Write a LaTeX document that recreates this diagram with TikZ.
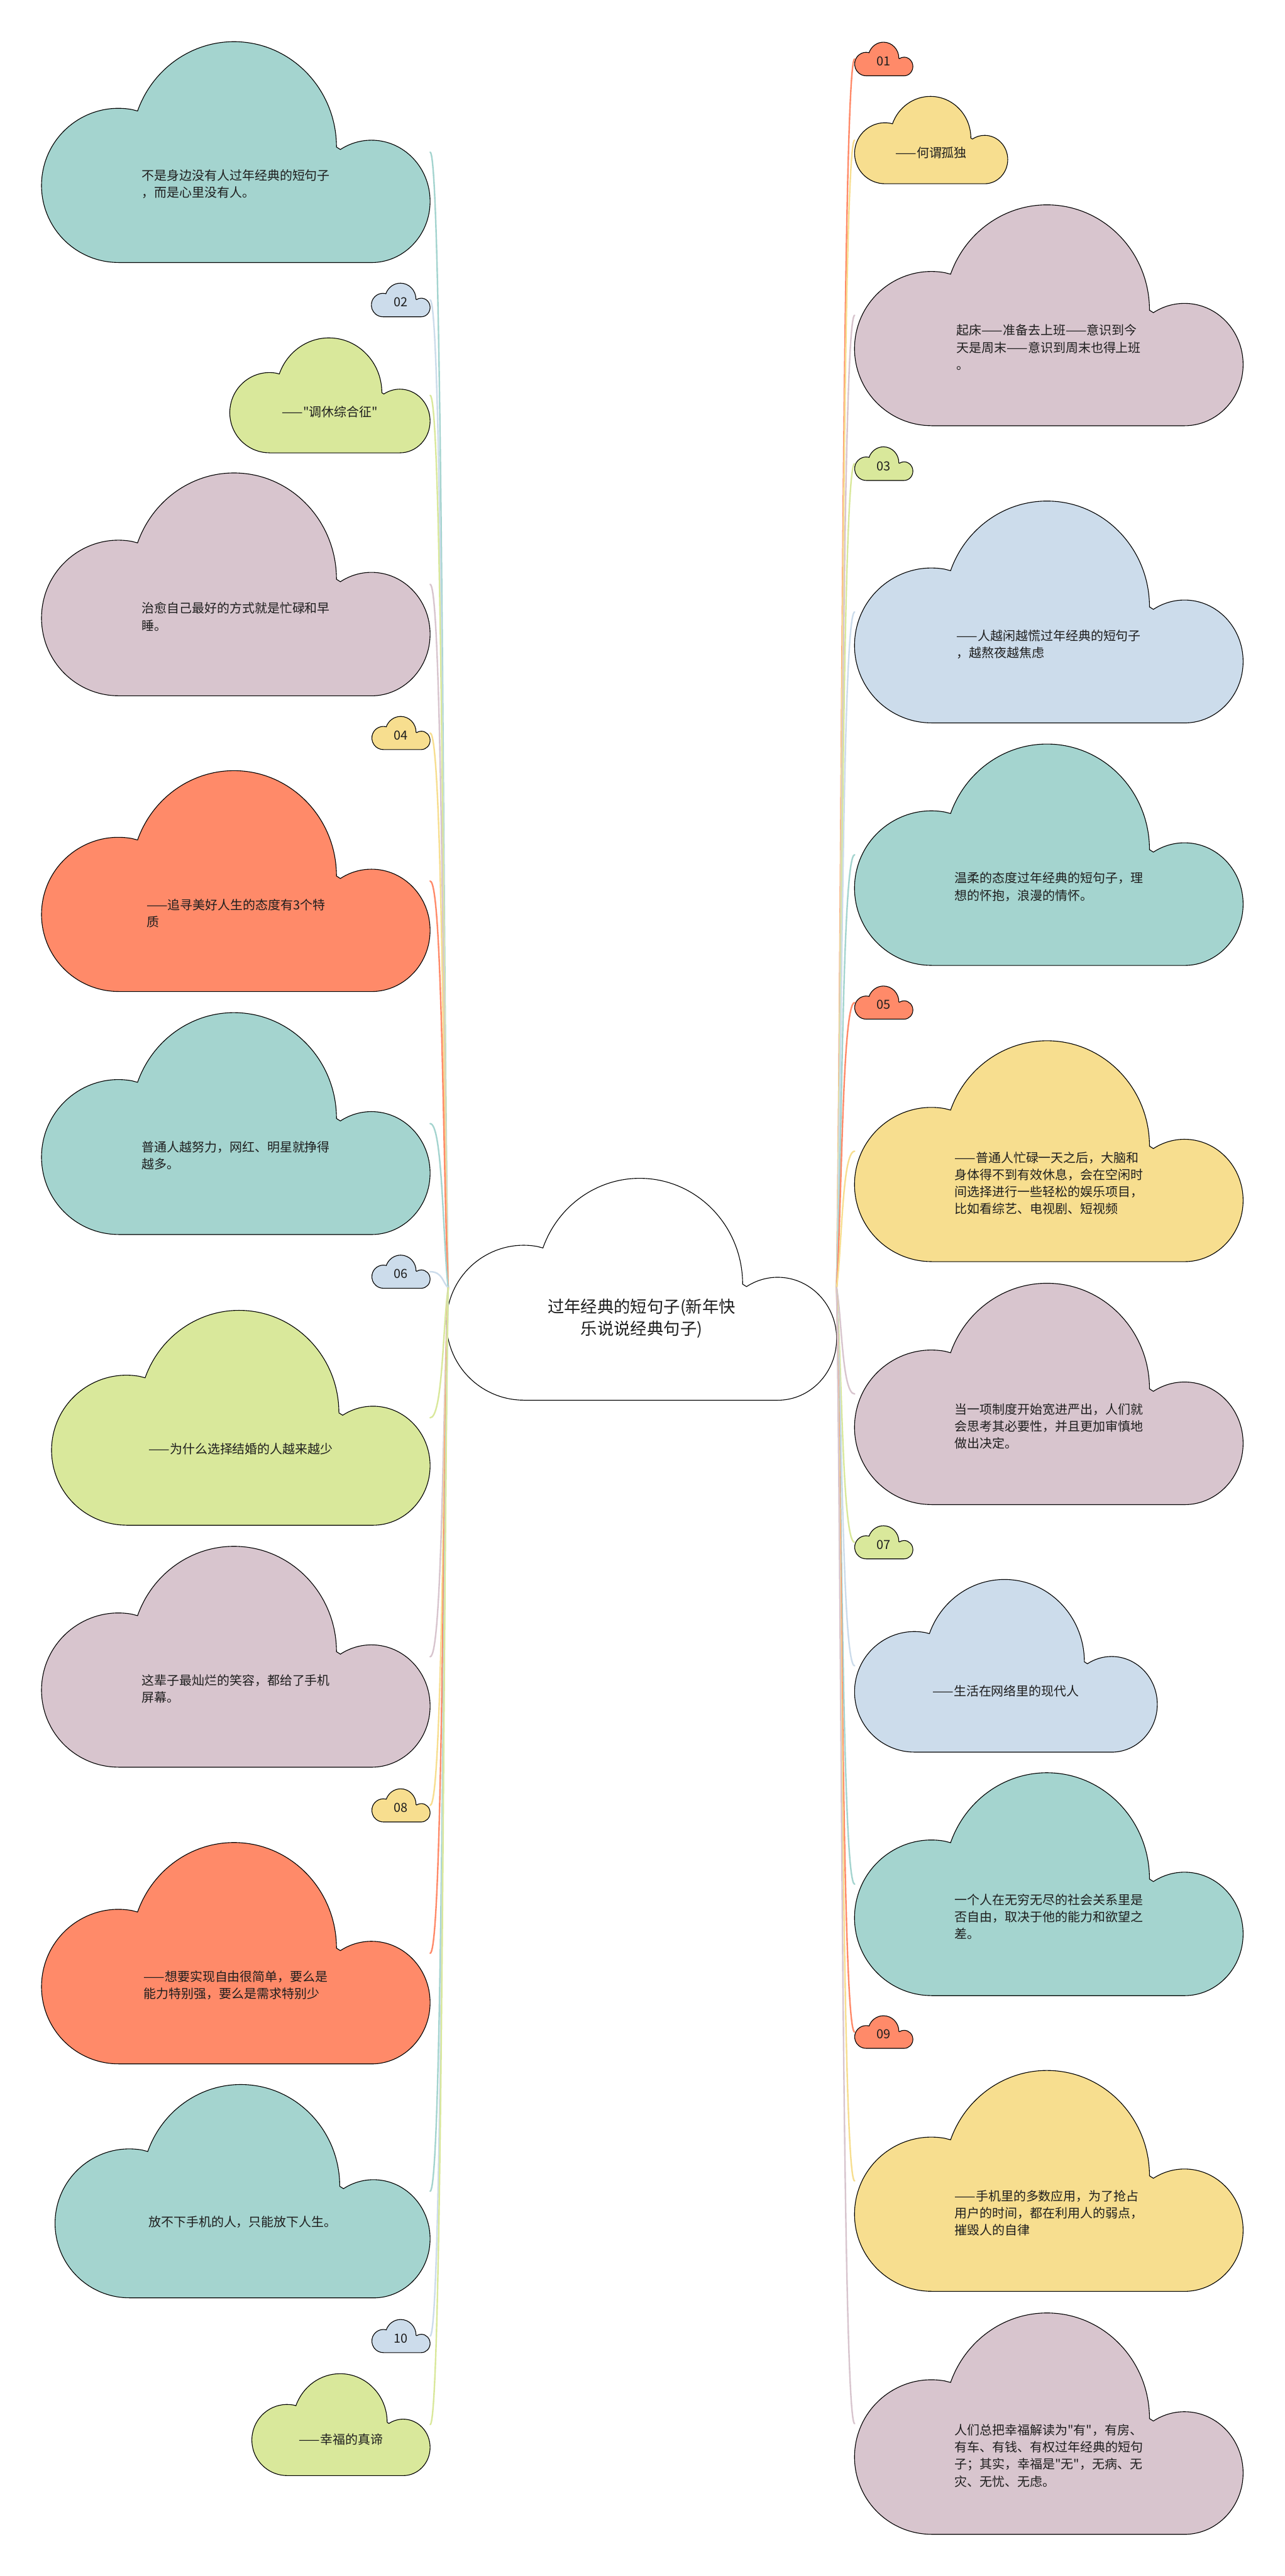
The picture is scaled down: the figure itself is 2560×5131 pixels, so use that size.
\documentclass[tikz,border=0pt]{standalone}
\usepackage{fontspec}
\newfontfamily\cjkf{Noto Sans CJK SC}
\usetikzlibrary{calc}
\definecolor{cteal}{HTML}{A4D4CF}
\definecolor{cpink}{HTML}{D8C5CE}
\definecolor{cblue}{HTML}{CCDCEB}
\definecolor{cgreen}{HTML}{D9E89B}
\definecolor{corange}{HTML}{FF8A69}
\definecolor{cyellow}{HTML}{F7DE8F}
\definecolor{textc}{HTML}{1E1E1E}
\tikzset{
  cloudline/.style={draw=black, line width=1.4pt},
  bbox/.style={draw=none, rectangle, inner sep=0pt, outer sep=0pt},
  txt/.style={align=left, inner sep=0pt, text=textc, font=\cjkf\fontsize{25}{34}\selectfont},
  numtxt/.style={inner sep=0pt, text=textc, font=\cjkf\fontsize{25}{30}\selectfont},
  roottxt/.style={align=center, inner sep=0pt, text=textc, font=\cjkf\fontsize{33}{44}\selectfont},
  conn/.style={line width=3pt, line cap=round},
}
% cloud outline inside the box x1,y1 (top-left) to x2,y2 (bottom-right)
\newcommand\drawcloud[5]{%
  \pgfmathsetmacro\cldW{#3-#1}\pgfmathsetmacro\cldH{#4-#2}%
  \begin{scope}[shift={(#1,#4)}, x=\cldW pt, y=\cldH pt]
    \filldraw[fill=#5, cloudline] (0.198,0) -- (0.849,0)
      arc[start angle=-90, end angle=122, x radius=0.151, y radius=0.277]
      -- (0.759,0.523)
      arc[start angle=0, end angle=160, x radius=0.264, y radius=0.477]
      -- (0.232,0.693)
      arc[start angle=80, end angle=270, x radius=0.198, y radius=0.349]
      -- cycle;
  \end{scope}}
% name, x1, y1, x2, y2, colour, text style, text height factor, text
\newcommand\cloudnode[9]{%
  \drawcloud{#2}{#3}{#4}{#5}{#6}%
  \pgfmathsetmacro\cldW{#4-#2}\pgfmathsetmacro\cldH{#5-#3}%
  \node[bbox, minimum width=\cldW pt, minimum height=\cldH pt] (#1) at ({(#2+#4)/2},{(#3+#5)/2}) {};
  \node[#7] (#1t) at ({(#2+#4)/2},{#5-#8*\cldH}) {#9};}
\newcommand\linkL[2]{\draw[conn, draw=#2] (#1.east) .. controls +(25,0) and ($(rootL)!0.3!(#1.east)$) .. (rootL);}
\newcommand\linkR[2]{\draw[conn, draw=#2] (#1.west) .. controls +(-25,0) and ($(rootR)!0.3!(#1.west)$) .. (rootR);}
\begin{document}
\begin{tikzpicture}[x=1pt, y=-1pt]
\fill[white] (0,0) rectangle (2560,5131);
\useasboundingbox (0,0) rectangle (2560,5131);

% root
\cloudnode{root}{890}{2347}{1667}{2789}{white}{roottxt}{0.368}{过年经典的短句子(新年快\\乐说说经典句子)}
\coordinate (rootL) at (893,2565);
\coordinate (rootR) at (1667,2565);

% left side
\cloudnode{l1}{83}{83}{857}{523}{cteal}{txt}{0.355}{不是身边没有人过年经典的短句子\\，而是心里没有人。}
\cloudnode{n02}{740}{564}{857}{631}{cblue}{numtxt}{0.43}{02}
\cloudnode{l2}{458}{673}{857}{902}{cgreen}{txt}{0.355}{——"调休综合征"}
\cloudnode{l3}{83}{942}{857}{1386}{cpink}{txt}{0.355}{治愈自己最好的方式就是忙碌和早\\睡。}
\cloudnode{n04}{741}{1427}{857}{1493}{cyellow}{numtxt}{0.43}{04}
\cloudnode{l4}{83}{1535}{857}{1975}{corange}{txt}{0.355}{——追寻美好人生的态度有3个特\\质}
\cloudnode{l5}{83}{2017}{857}{2459}{cteal}{txt}{0.355}{普通人越努力，网红、明星就挣得\\越多。}
\cloudnode{n06}{741}{2500}{857}{2566}{cblue}{numtxt}{0.43}{06}
\cloudnode{l6}{103}{2610}{857}{3038}{cgreen}{txt}{0.355}{——为什么选择结婚的人越来越少}
\cloudnode{l7}{83}{3080}{857}{3520}{cpink}{txt}{0.355}{这辈子最灿烂的笑容，都给了手机\\屏幕。}
\cloudnode{n08}{741}{3563}{857}{3629}{cyellow}{numtxt}{0.43}{08}
\cloudnode{l8}{83}{3670}{857}{4111}{corange}{txt}{0.355}{——想要实现自由很简单，要么是\\能力特别强，要么是需求特别少}
\cloudnode{l9}{110}{4152}{857}{4577}{cteal}{txt}{0.355}{放不下手机的人，只能放下人生。}
\cloudnode{n10}{741}{4620}{857}{4686}{cblue}{numtxt}{0.43}{10}
\cloudnode{l10}{502}{4728}{857}{4931}{cgreen}{txt}{0.355}{——幸福的真谛}

% right side
\cloudnode{n01}{1703}{84}{1819}{151}{corange}{numtxt}{0.43}{01}
\cloudnode{r1}{1703}{192}{2008}{366}{cyellow}{txt}{0.355}{——何谓孤独}
\cloudnode{r2}{1703}{408}{2477}{848}{cpink}{txt}{0.355}{起床——准备去上班——意识到今\\天是周末——意识到周末也得上班\\。}
\cloudnode{n03}{1703}{890}{1819}{957}{cgreen}{numtxt}{0.43}{03}
\cloudnode{r3}{1703}{998}{2477}{1440}{cblue}{txt}{0.355}{——人越闲越慌过年经典的短句子\\，越熬夜越焦虑}
\cloudnode{r4}{1703}{1482}{2477}{1923}{cteal}{txt}{0.355}{温柔的态度过年经典的短句子，理\\想的怀抱，浪漫的情怀。}
\cloudnode{n05}{1703}{1964}{1819}{2030}{corange}{numtxt}{0.43}{05}
\cloudnode{r5}{1703}{2073}{2477}{2513}{cyellow}{txt}{0.355}{——普通人忙碌一天之后，大脑和\\身体得不到有效休息，会在空闲时\\间选择进行一些轻松的娱乐项目，\\比如看综艺、电视剧、短视频}
\cloudnode{r6}{1703}{2556}{2477}{2997}{cpink}{txt}{0.355}{当一项制度开始宽进严出，人们就\\会思考其必要性，并且更加审慎地\\做出决定。}
\cloudnode{n07}{1703}{3039}{1819}{3105}{cgreen}{numtxt}{0.43}{07}
\cloudnode{r7}{1703}{3146}{2306}{3490}{cblue}{txt}{0.355}{——生活在网络里的现代人}
\cloudnode{r8}{1703}{3531}{2477}{3975}{cteal}{txt}{0.355}{一个人在无穷无尽的社会关系里是\\否自由，取决于他的能力和欲望之\\差。}
\cloudnode{n09}{1703}{4015}{1819}{4080}{corange}{numtxt}{0.43}{09}
\cloudnode{r9}{1703}{4124}{2477}{4564}{cyellow}{txt}{0.355}{——手机里的多数应用，为了抢占\\用户的时间，都在利用人的弱点，\\摧毁人的自律}
\cloudnode{r10}{1703}{4607}{2477}{5048}{cpink}{txt}{0.355}{人们总把幸福解读为"有"，有房、\\有车、有钱、有权过年经典的短句\\子；其实，幸福是"无"，无病、无\\灾、无忧、无虑。}

% connectors left
\linkL{l1}{cteal}
\linkL{n02}{cblue}
\linkL{l2}{cgreen}
\linkL{l3}{cpink}
\linkL{n04}{cyellow}
\linkL{l4}{corange}
\linkL{l5}{cteal}
\linkL{n06}{cblue}
\linkL{l6}{cgreen}
\linkL{l7}{cpink}
\linkL{n08}{cyellow}
\linkL{l8}{corange}
\linkL{l9}{cteal}
\linkL{n10}{cblue}
\linkL{l10}{cgreen}
% connectors right
\linkR{n01}{corange}
\linkR{r1}{cyellow}
\linkR{r2}{cpink}
\linkR{n03}{cgreen}
\linkR{r3}{cblue}
\linkR{r4}{cteal}
\linkR{n05}{corange}
\linkR{r5}{cyellow}
\linkR{r6}{cpink}
\linkR{n07}{cgreen}
\linkR{r7}{cblue}
\linkR{r8}{cteal}
\linkR{n09}{corange}
\linkR{r9}{cyellow}
\linkR{r10}{cpink}
\end{tikzpicture}
\end{document}
